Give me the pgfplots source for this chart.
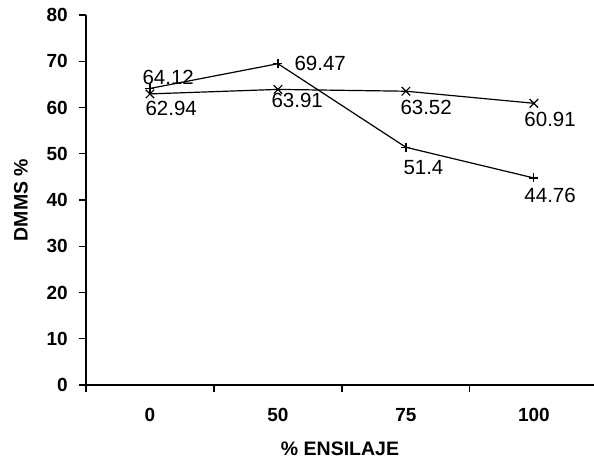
\documentclass[border=0pt]{standalone}
\usepackage{fontspec}
\setmainfont{Liberation Sans}
\usepackage{pgfplots}
\usepackage{pgfplotstable}
\pgfplotsset{compat=1.18}

% serie con marca +
\pgfplotstableread{
x y lab dx dy
0 64.12 64.12 -8 11
1 69.47 69.47 16 0
2 51.4 51.4 -3 -20
3 44.76 44.76 -10 -17
}\tabA
% serie con marca x
\pgfplotstableread{
x y lab dx dy
0 62.94 62.94 -5 -15
1 63.91 63.91 -7 -11
2 63.52 63.52 -6 -16
3 60.91 60.91 -10 -16
}\tabB

\begin{document}
\begin{tikzpicture}
\begin{axis}[
  scale only axis, width=508bp, height=370bp,
  xmin=-0.5, xmax=3.47, ymin=0, ymax=80,
  axis x line*=bottom, axis y line*=left,
  axis line style={-, line width=1.2bp},
  tick style={black, line width=1.2bp},
  tick align=outside, major tick length=7bp,
  ytick={0,10,...,80},
  xtick={-0.5,0.5,1.5,2.5}, xticklabels={},
  extra x ticks={0,1,2,3}, extra x tick labels={0,50,75,100},
  extra x tick style={major tick length=0pt},
  /pgf/number format/assume math mode=true,
  tick label style={font=\fontsize{19bp}{22bp}\selectfont\bfseries},
  yticklabel style={anchor=east, inner sep=0pt, xshift=-11bp},
  xticklabel style={anchor=north, inner sep=0pt, yshift=-23bp},
  xlabel={\% ENSILAJE}, ylabel={DMMS \%},
  every axis x label/.style={at={(axis description cs:0.5,-0.152)}, anchor=north, inner sep=0pt, font=\fontsize{19.5bp}{22bp}\selectfont\bfseries},
  every axis y label/.style={at={(axis description cs:-0.128,0.5)}, anchor=center, rotate=90, inner sep=0pt, font=\fontsize{19.5bp}{22bp}\selectfont\bfseries},
  clip=false,
  nodes near coords, point meta=explicit symbolic,
  nodes near coords align={horizontal},
  visualization depends on={\thisrow{dx}\as\lblx},
  visualization depends on={\thisrow{dy}\as\lbly},
  every node near coord/.append style={anchor=west, inner sep=0pt, xshift=\lblx bp, yshift=\lbly bp, font=\fontsize{20.5bp}{23bp}\selectfont, black},
]
\addplot[black, line width=1.2bp, mark=+, mark size=4.5bp] table[x=x, y=y, meta=lab]{\tabA};
\addplot[black, line width=1.2bp, mark=x, mark size=6bp] table[x=x, y=y, meta=lab]{\tabB};
\end{axis}
\pgfresetboundingbox
\path[use as bounding box] ([xshift=-86bp, yshift=-75bp]current axis.south west) rectangle ([yshift=15bp]current axis.north east);
\end{tikzpicture}
\end{document}
